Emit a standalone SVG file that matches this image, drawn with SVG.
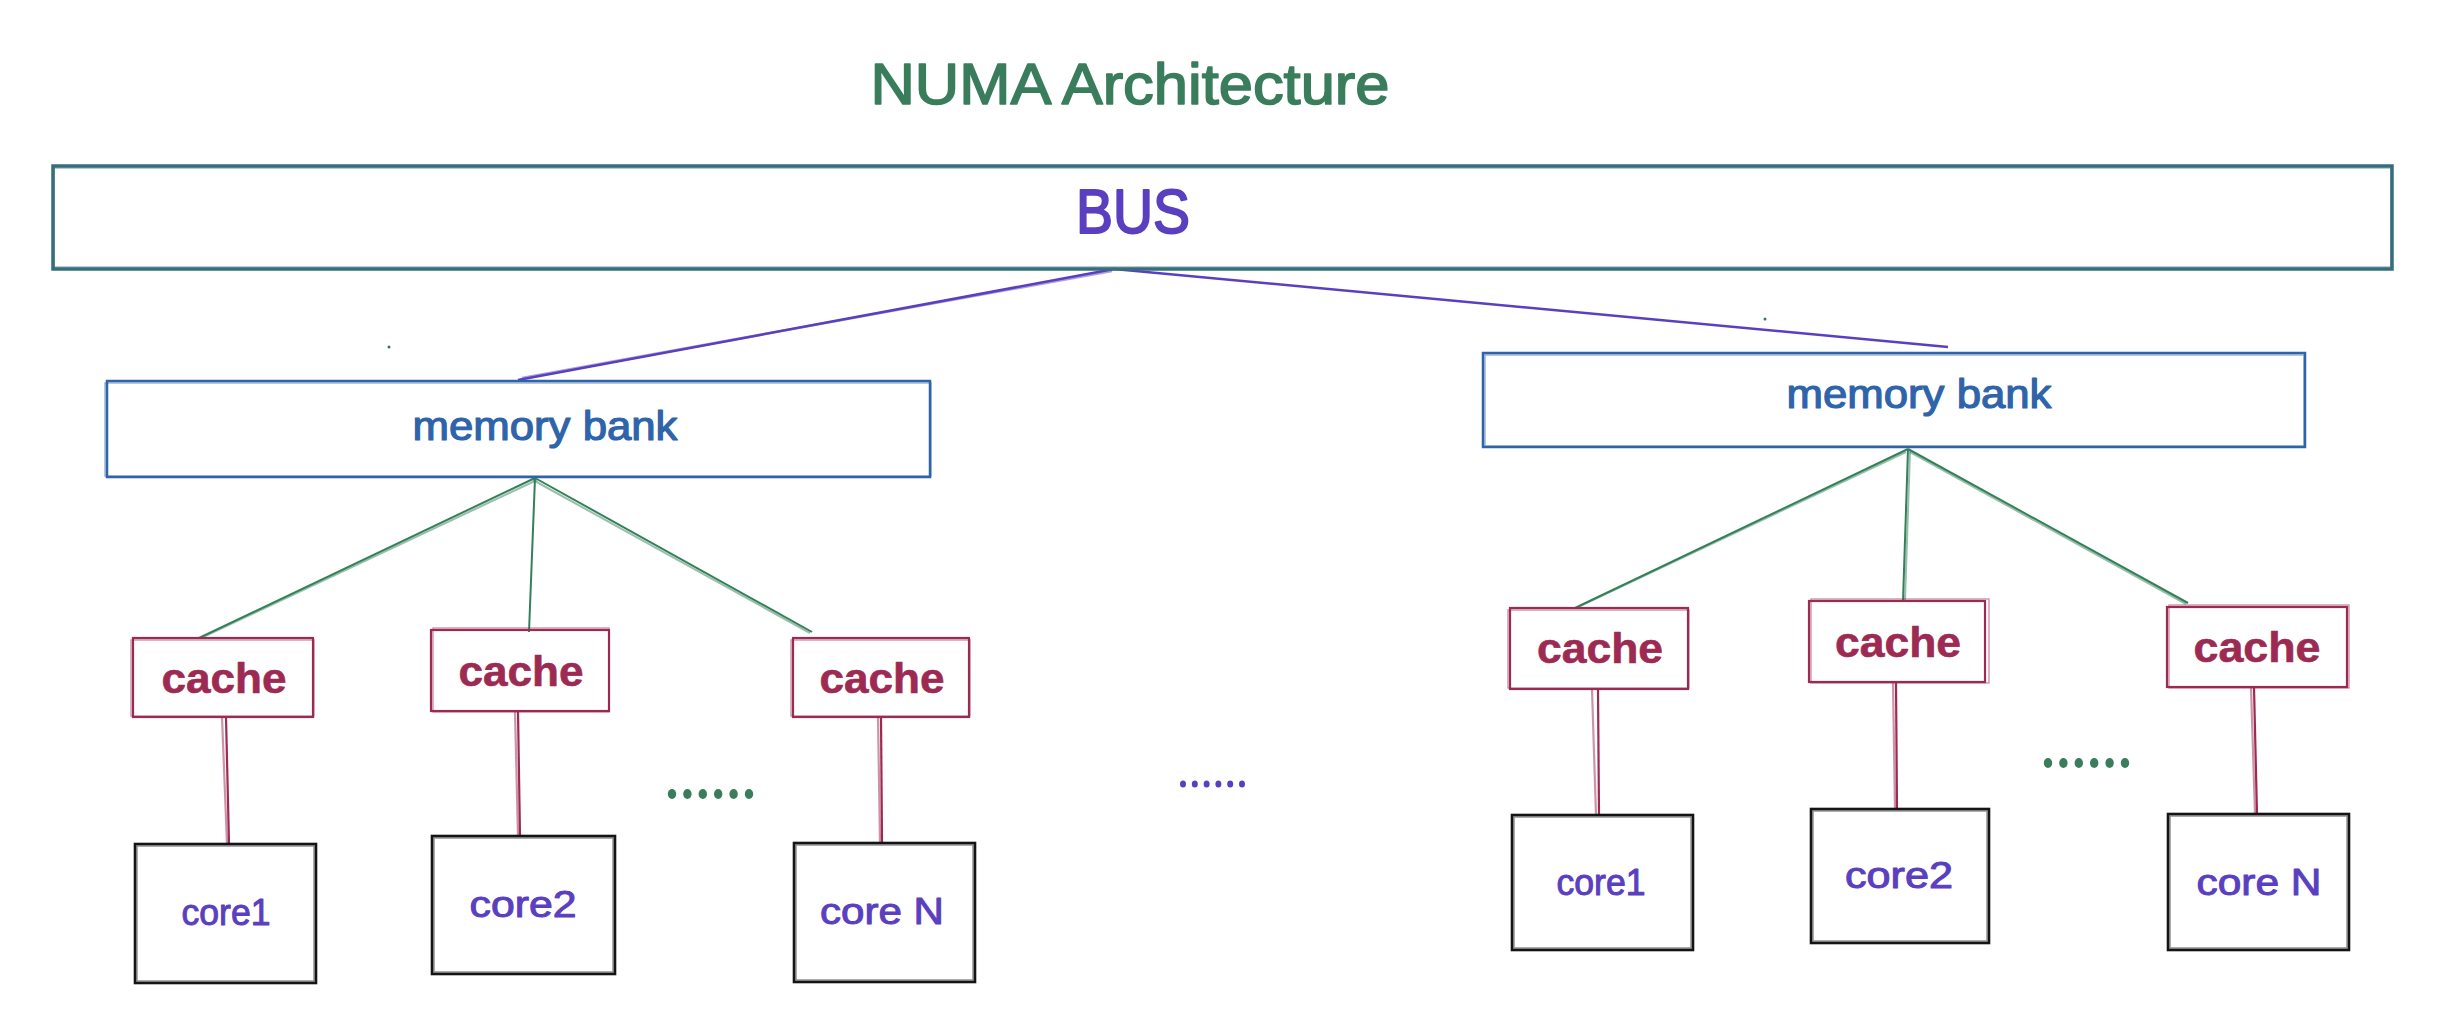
<svg xmlns="http://www.w3.org/2000/svg" width="2440" height="1016" viewBox="0 0 2440 1016">
<style>
  .bus{fill:none;stroke:#366f7b;stroke-width:3.5}
  .mem{fill:none;stroke:#2f64aa;stroke-width:2.5}
  .cache{fill:none;stroke:#9c2a52;stroke-width:2.2}
  .core{fill:none;stroke:#141414;stroke-width:2.6}
  .sk{stroke-opacity:0.5;stroke-width:1.4}
  .t{font-family:"Liberation Sans","DejaVu Sans",sans-serif;text-anchor:middle;stroke-linejoin:round}
  .title{fill:#3a7d5c;stroke:#3a7d5c;stroke-width:1.6;font-size:58px}
  .bust{fill:#5a3fc0;stroke:#5a3fc0;stroke-width:2;font-size:63px}
  .memt{fill:#2f64aa;stroke:#2f64aa;stroke-width:1.2;font-size:40px}
  .cachet{fill:#9c2a52;stroke:#9c2a52;stroke-width:0.6;font-size:42px;font-weight:bold}
  .coret{fill:#5a3fc0;stroke:#5a3fc0;stroke-width:1;font-size:37px}
  .purple{stroke:#5a3fc0;stroke-width:2.5;fill:none}
  .green{stroke:#34805a;stroke-width:2;fill:none}
  .crim{stroke:#9c2a52;stroke-width:2.2;fill:none}
  .gdot{fill:#3a7d5c}
  .pdot{fill:#5a3fc0}
</style>
<rect width="2440" height="1016" fill="#ffffff"/>

<g id="title">
  <text class="t title" x="1130" y="104" textLength="519" lengthAdjust="spacingAndGlyphs">NUMA Architecture</text>
</g>

<g id="connectors">
  <line class="purple" x1="1114" y1="269" x2="518" y2="380"/>
  <line class="purple sk" x1="1112" y1="271" x2="522" y2="378"/>
  <line class="purple" x1="1114" y1="269" x2="1948" y2="347"/>
  <line class="green" x1="535" y1="478" x2="199" y2="638"/>
  <line class="green sk" x1="537" y1="480" x2="203" y2="637"/>
  <line class="green" x1="535" y1="478" x2="529" y2="632"/>
  <line class="green" x1="535" y1="478" x2="812" y2="632"/>
  <line class="green sk" x1="533" y1="480" x2="810" y2="633"/>
  <line class="green" x1="1908" y1="449" x2="1575" y2="608"/>
  <line class="green sk" x1="1906" y1="452" x2="1580" y2="606"/>
  <line class="green" x1="1908" y1="449" x2="1903" y2="601"/>
  <line class="green sk" x1="1910" y1="451" x2="1905" y2="600"/>
  <line class="green" x1="1908" y1="449" x2="2188" y2="603"/>
  <line class="green sk" x1="1910" y1="452" x2="2186" y2="604"/>
  <line class="crim" x1="226" y1="717" x2="229" y2="844"/>
  <line class="crim sk" x1="222" y1="717" x2="227" y2="844"/>
  <line class="crim" x1="518" y1="711" x2="520" y2="836"/>
  <line class="crim sk" x1="515" y1="711" x2="518" y2="836"/>
  <line class="crim" x1="881" y1="717" x2="882" y2="843"/>
  <line class="crim sk" x1="878" y1="717" x2="880" y2="843"/>
  <line class="crim" x1="1598" y1="689" x2="1599" y2="815"/>
  <line class="crim sk" x1="1592" y1="689" x2="1596" y2="815"/>
  <line class="crim" x1="1896" y1="682" x2="1897" y2="809"/>
  <line class="crim sk" x1="1893" y1="682" x2="1895" y2="809"/>
  <line class="crim" x1="2254" y1="687" x2="2257" y2="814"/>
  <line class="crim sk" x1="2251" y1="687" x2="2255" y2="814"/>
</g>

<g id="bus">
  <rect class="bus" x="53" y="166" width="2339" height="103"/>
  <rect class="bus sk" x="54" y="168" width="2337" height="99"/>
  <text class="t bust" x="1133" y="233" textLength="114" lengthAdjust="spacingAndGlyphs">BUS</text>
</g>

<g id="memory-bank-left">
  <rect class="mem" x="107" y="381" width="823" height="96"/>
  <rect class="mem sk" x="105" y="383" width="826" height="93"/>
  <text class="t memt" x="545" y="440" textLength="265" lengthAdjust="spacingAndGlyphs">memory bank</text>
</g>
<g id="memory-bank-right">
  <rect class="mem" x="1483" y="353" width="822" height="94"/>
  <rect class="mem sk" x="1485" y="355" width="819" height="91"/>
  <text class="t memt" x="1919" y="408" textLength="265" lengthAdjust="spacingAndGlyphs">memory bank</text>
</g>

<g id="cache-left-1">
  <rect class="cache" x="133" y="638" width="180" height="79"/>
  <rect class="cache sk" x="131" y="640" width="183" height="76"/>
  <text class="t cachet" x="224" y="693" textLength="125" lengthAdjust="spacingAndGlyphs">cache</text>
</g>
<g id="cache-left-2">
  <rect class="cache" x="431" y="630" width="178" height="81"/>
  <rect class="cache sk" x="433" y="628" width="176" height="84"/>
  <text class="t cachet" x="521" y="686" textLength="125" lengthAdjust="spacingAndGlyphs">cache</text>
</g>
<g id="cache-left-3">
  <rect class="cache" x="793" y="638" width="176" height="79"/>
  <rect class="cache sk" x="791" y="640" width="179" height="76"/>
  <text class="t cachet" x="882" y="693" textLength="125" lengthAdjust="spacingAndGlyphs">cache</text>
</g>
<g id="cache-right-1">
  <rect class="cache" x="1510" y="608" width="178" height="81"/>
  <rect class="cache sk" x="1508" y="610" width="181" height="78"/>
  <text class="t cachet" x="1600" y="663" textLength="126" lengthAdjust="spacingAndGlyphs">cache</text>
</g>
<g id="cache-right-2">
  <rect class="cache" x="1809" y="601" width="176" height="81"/>
  <rect class="cache sk" x="1811" y="599" width="178" height="84"/>
  <text class="t cachet" x="1898" y="657" textLength="126" lengthAdjust="spacingAndGlyphs">cache</text>
</g>
<g id="cache-right-3">
  <rect class="cache" x="2167" y="607" width="180" height="80"/>
  <rect class="cache sk" x="2169" y="605" width="180" height="83"/>
  <text class="t cachet" x="2257" y="662" textLength="127" lengthAdjust="spacingAndGlyphs">cache</text>
</g>

<g id="core-left-1">
  <rect class="core" x="135" y="844" width="181" height="139"/>
  <rect class="core sk" x="137" y="846" width="177" height="135"/>
  <text class="t coret" x="226" y="925" textLength="89" lengthAdjust="spacingAndGlyphs">core1</text>
</g>
<g id="core-left-2">
  <rect class="core" x="432" y="836" width="183" height="138"/>
  <rect class="core sk" x="434" y="838" width="179" height="134"/>
  <text class="t coret" x="523" y="917" textLength="107" lengthAdjust="spacingAndGlyphs">core2</text>
</g>
<g id="core-left-3">
  <rect class="core" x="794" y="843" width="181" height="139"/>
  <rect class="core sk" x="796" y="845" width="177" height="135"/>
  <text class="t coret" x="882" y="924" textLength="124" lengthAdjust="spacingAndGlyphs">core N</text>
</g>
<g id="core-right-1">
  <rect class="core" x="1512" y="815" width="181" height="135"/>
  <rect class="core sk" x="1514" y="817" width="177" height="131"/>
  <text class="t coret" x="1601" y="895" textLength="89" lengthAdjust="spacingAndGlyphs">core1</text>
</g>
<g id="core-right-2">
  <rect class="core" x="1811" y="809" width="178" height="134"/>
  <rect class="core sk" x="1813" y="811" width="174" height="130"/>
  <text class="t coret" x="1899" y="888" textLength="108" lengthAdjust="spacingAndGlyphs">core2</text>
</g>
<g id="core-right-3">
  <rect class="core" x="2168" y="814" width="181" height="136"/>
  <rect class="core sk" x="2170" y="816" width="177" height="132"/>
  <text class="t coret" x="2259" y="895" textLength="125" lengthAdjust="spacingAndGlyphs">core N</text>
</g>

<g id="dots-left">
  <ellipse class="gdot" cx="672" cy="794" rx="4.2" ry="5"/>
  <ellipse class="gdot" cx="687.4" cy="794" rx="4.2" ry="5"/>
  <ellipse class="gdot" cx="702.8" cy="794" rx="4.2" ry="5"/>
  <ellipse class="gdot" cx="718.2" cy="794" rx="4.2" ry="5"/>
  <ellipse class="gdot" cx="733.6" cy="794" rx="4.2" ry="5"/>
  <ellipse class="gdot" cx="749" cy="794" rx="4.2" ry="5"/>
</g>
<g id="dots-middle">
  <ellipse class="pdot" cx="1183" cy="784" rx="3" ry="3.6"/>
  <ellipse class="pdot" cx="1194.8" cy="784" rx="3" ry="3.6"/>
  <ellipse class="pdot" cx="1206.6" cy="784" rx="3" ry="3.6"/>
  <ellipse class="pdot" cx="1218.4" cy="784" rx="3" ry="3.6"/>
  <ellipse class="pdot" cx="1230.2" cy="784" rx="3" ry="3.6"/>
  <ellipse class="pdot" cx="1242" cy="784" rx="3" ry="3.6"/>
</g>
<g id="dots-right">
  <ellipse class="gdot" cx="2048" cy="763" rx="4.2" ry="5"/>
  <ellipse class="gdot" cx="2063.4" cy="763" rx="4.2" ry="5"/>
  <ellipse class="gdot" cx="2078.8" cy="763" rx="4.2" ry="5"/>
  <ellipse class="gdot" cx="2094.2" cy="763" rx="4.2" ry="5"/>
  <ellipse class="gdot" cx="2109.6" cy="763" rx="4.2" ry="5"/>
  <ellipse class="gdot" cx="2125" cy="763" rx="4.2" ry="5"/>
</g>
<g id="specks">
  <circle cx="389" cy="347" r="1.5" fill="#366f7b"/>
  <circle cx="1765" cy="319" r="1.5" fill="#366f7b"/>
</g>
</svg>
